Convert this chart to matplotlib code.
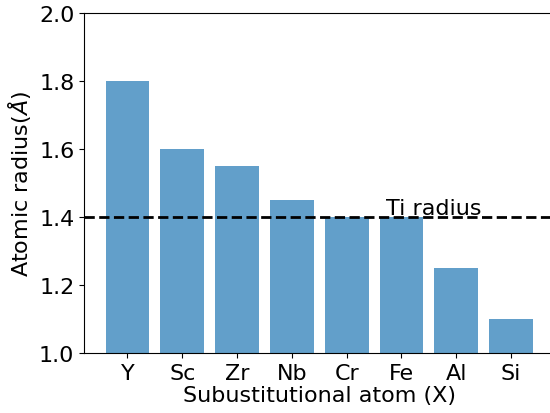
import numpy as np
import matplotlib.pyplot as plt

atoms = ['Y', 'Sc', 'Zr', 'Nb', 'Cr', 'Fe', 'Al', 'Si']
radius = [1.80, 1.60, 1.55, 1.45, 1.40, 1.40, 1.25, 1.10]
ti_radius = 1.40

fig = plt.figure(figsize=(5.5, 4.14), dpi=100)
ax = fig.add_axes([0.153, 0.145, 0.855, 0.820])

x = np.arange(len(atoms))
ax.bar(x, radius, width=0.8, color='tab:blue', alpha=0.7)
ax.axhline(ti_radius, color='k', linestyle='--', linewidth=2)
ax.text(4.72, ti_radius + 0.01, 'Ti radius', fontsize=16, va='baseline')

ax.set_xticks(x)
ax.set_xticklabels(atoms)
ax.set_ylim(1.0, 2.0)
ax.set_yticks([1.0, 1.2, 1.4, 1.6, 1.8, 2.0])
ax.tick_params(labelsize=16)
ax.set_xlabel('Subustitutional atom (X)', fontsize=16, labelpad=2)
ax.set_ylabel(r'Atomic radius($\AA$)', fontsize=16)

fig.savefig('out.png', dpi=100)
